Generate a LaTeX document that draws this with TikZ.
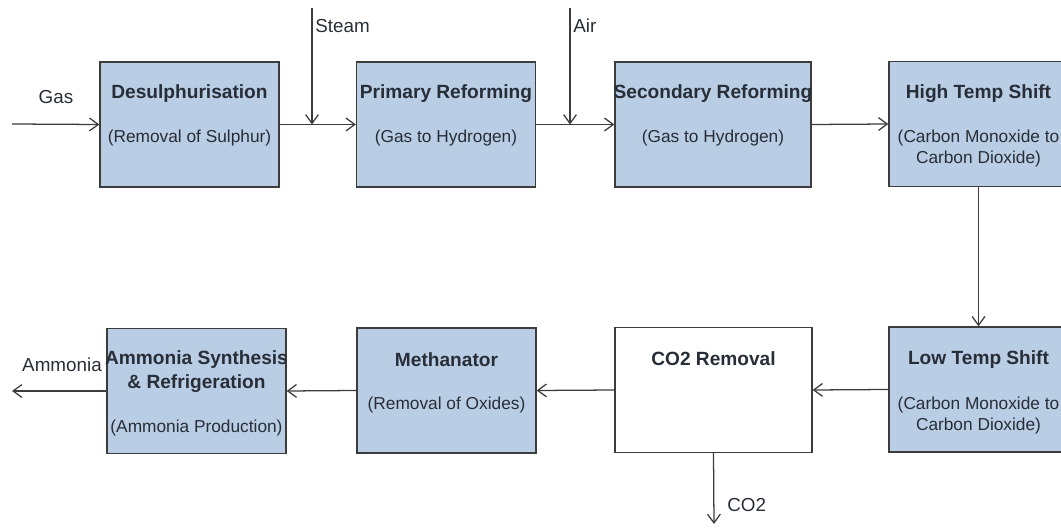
\documentclass[tikz,border=0pt]{standalone}
\usepackage{fontspec}
\setmainfont{Liberation Sans}
\usetikzlibrary{arrows.meta,calc}
\definecolor{boxblue}{RGB}{185,205,228}
\definecolor{lineg}{RGB}{60,60,60}
\definecolor{txtg}{RGB}{40,46,56}
\begin{document}
\begin{tikzpicture}[x=0.025cm,y=-0.025cm,
    unit/.style={draw=lineg, line width=0.9pt, fill=boxblue, minimum width=4.475cm, minimum height=3.125cm, inner sep=0pt},
    plain/.style={unit, fill=white, minimum width=4.925cm},
    head/.style={font=\fontsize{13.6}{17}\selectfont\bfseries, text=txtg, align=center, inner sep=0pt},
    sub/.style={font=\fontsize{12.3}{15}\selectfont, text=txtg, align=center, inner sep=0pt},
    lbl/.style={font=\fontsize{13.4}{16}\selectfont, text=txtg, inner sep=0pt},
    flow/.style={draw=lineg, line width=0.9pt, -{Straight Barb[length=2.2mm,width=3.2mm]}}]
    \useasboundingbox (0,0) rectangle (1061,531);
    % Riga superiore
    \node[unit] (desulph) at (189.5,124.5) {};
    \node[unit] (primary) at (446,124.5) {};
    \node[unit, minimum width=4.9cm] (secondary) at (713,124.5) {};
    \node[unit] (hts) at (978.5,124) {};
    \node[head] (desulphT) at ($(desulph.north)+(0,32)$) {Desulphurisation};
    \node[sub] (desulphS) at ($(desulph.north)+(0,77)$) {(Removal of Sulphur)};
    \node[head] (primaryT) at ($(primary.north)+(0,32)$) {Primary Reforming};
    \node[sub] (primaryS) at ($(primary.north)+(0,77)$) {(Gas to Hydrogen)};
    \node[head] (secondaryT) at ($(secondary.north)+(0,32)$) {Secondary Reforming};
    \node[sub] (secondaryS) at ($(secondary.north)+(0,77)$) {(Gas to Hydrogen)};
    \node[head] (htsT) at ($(hts.north)+(0,33)$) {High Temp Shift};
    \node[sub] (htsS) at ($(hts.north)+(0,88)$) {(Carbon Monoxide to\\Carbon Dioxide)};
    % Riga inferiore
    \node[unit] (lts) at (978.5,389.5) {};
    \node[plain] (co2) at (713.5,390) {};
    \node[unit] (meth) at (446.5,390.5) {};
    \node[unit] (ammonia) at (196.5,391) {};
    \node[head] (ltsT) at ($(lts.north)+(0,33)$) {Low Temp Shift};
    \node[sub] (ltsS) at ($(lts.north)+(0,89)$) {(Carbon Monoxide to\\Carbon Dioxide)};
    \node[head] (co2T) at ($(co2.north)+(0,32)$) {CO2 Removal};
    \node[head] (methT) at ($(meth.north)+(0,32)$) {Methanator};
    \node[sub] (methS) at ($(meth.north)+(0,78)$) {(Removal of Oxides)};
    \node[head] (ammoniaT) at ($(ammonia.north)+(0,44)$) {Ammonia Synthesis\\\& Refrigeration};
    \node[sub] (ammoniaS) at ($(ammonia.north)+(0,100)$) {(Ammonia Production)};
    % Ingressi e uscite
    \coordinate (gasin) at (12,124);
    \coordinate (steamtop) at (312,8);
    \coordinate (airtop) at (570,8);
    \coordinate (ammout) at (12,391);
    \coordinate (co2out) at (714,524);
    \node[lbl] (gasL) at (56,97) {Gas};
    \node[lbl, anchor=west] (steamL) at (315,26) {Steam};
    \node[lbl, anchor=west] (airL) at (573,26) {Air};
    \node[lbl] (ammoniaL) at (62,365) {Ammonia};
    \node[lbl, anchor=west] (co2L) at (727,505) {CO2};
    % Collegamenti
    \draw[flow] (gasin) -- (desulph.west);
    \draw[flow] (desulph.east) -- (primary.west);
    \draw[flow] (steamtop) -- (steamtop |- desulph.east);
    \draw[flow] (primary.east) -- (secondary.west);
    \draw[flow] (airtop) -- (airtop |- primary.east);
    \draw[flow] (secondary.east) -- (hts.west);
    \draw[flow] (hts.south) -- (lts.north);
    \draw[flow] (lts.west) -- (co2.east);
    \draw[flow] (co2.west) -- (meth.east);
    \draw[flow] (meth.west) -- (ammonia.east);
    \draw[flow] (ammonia.west) -- (ammout);
    \draw[flow] (co2.south) -- (co2out);
\end{tikzpicture}
\end{document}
